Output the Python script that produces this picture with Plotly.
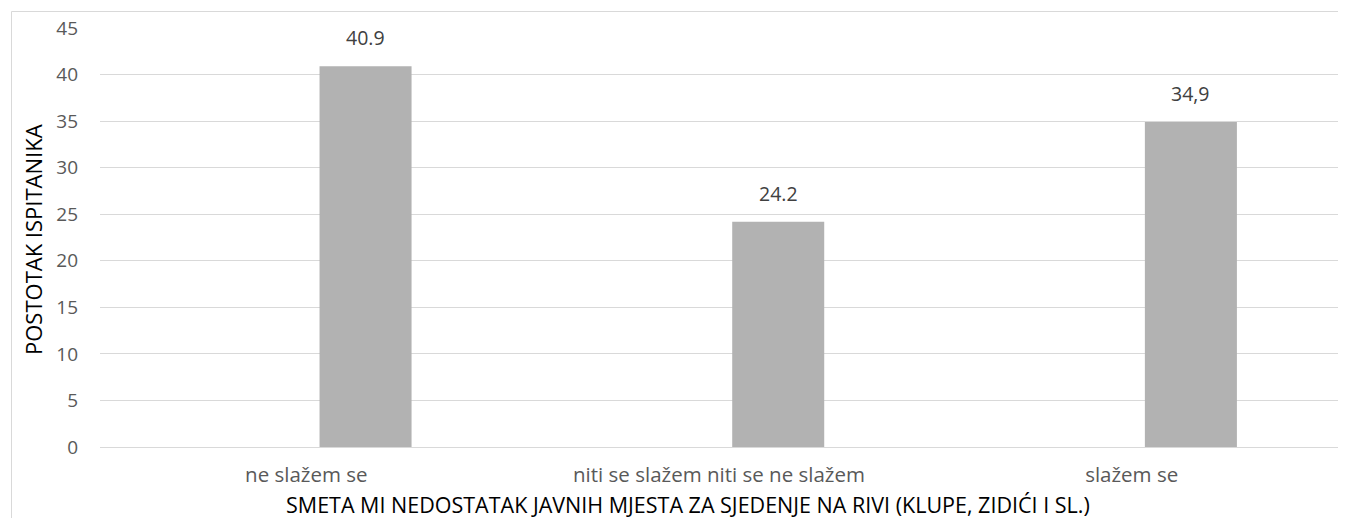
import plotly.graph_objects as go

categories = ["ne slažem se", "niti se slažem niti se ne slažem", "slažem se"]
values = [40.9, 24.2, 34.9]
value_labels = ["40.9", "24.2", "34,9"]
y_ticks = [0, 5, 10, 15, 20, 25, 30, 35, 40, 45]
x_title = "SMETA MI NEDOSTATAK JAVNIH MJESTA ZA SJEDENJE NA RIVI (KLUPE, ZIDIĆI I SL.)"
y_title = "POSTOTAK ISPITANIKA"

FONT = "Open Sans"
BAR_OFFSET = 0.032
BAR_WIDTH = 0.223

# page body has an 8px margin; plot area targets x 100..1338, y 28..447 (page px)
PL, PR, PT, PB = 100, 1338, 28, 447
PW, PH = PR - PL, PB - PT

fig = go.Figure()
fig.add_trace(go.Bar(
    x=categories, y=values,
    offset=BAR_OFFSET, width=BAR_WIDTH,
    marker=dict(color="#b2b2b2", line=dict(width=0)),
    hoverinfo="x+y",
))

for i, (v, t) in enumerate(zip(values, value_labels)):
    fig.add_annotation(
        x=i + BAR_OFFSET + BAR_WIDTH / 2, y=v, text=t,
        showarrow=False, yanchor="bottom", yshift=13,
        font=dict(family=FONT, size=19.5, color="#404040"),
    )

fig.update_layout(
    width=1338, height=510,
    margin=dict(l=PL - 8, r=1346 - PR, t=PT - 8, b=518 - PB),
    paper_bgcolor="white", plot_bgcolor="white",
    showlegend=False,
    font=dict(family=FONT),
)
fig.update_xaxes(
    type="category", range=[-0.5, 2.5],
    showgrid=False, zeroline=False, showline=False,
    tickfont=dict(family=FONT, size=20.5, color="#595959"),
    ticks="", ticklabelstandoff=13,
)
fig.update_yaxes(
    range=[0, 45], tickvals=y_ticks,
    showgrid=True, gridcolor="#d9d9d9", gridwidth=1,
    zeroline=True, zerolinecolor="#d9d9d9", zerolinewidth=1,
    showline=False, ticks="",
    tickfont=dict(family=FONT, size=19, color="#595959"),
    ticklabelstandoff=21,
)

fig.add_annotation(
    xref="paper", yref="paper", x=(688 - PL) / PW, y=-(504 - PB) / PH,
    text=x_title, showarrow=False, xanchor="center", yanchor="middle",
    font=dict(family=FONT, size=21.5, color="#000000"),
)
fig.add_annotation(
    xref="paper", yref="paper", x=-(PL - 33) / PW, y=(PB - 240) / PH,
    text=y_title, textangle=-90, showarrow=False, xanchor="center", yanchor="middle",
    font=dict(family=FONT, size=22, color="#000000"),
)

fig.add_shape(
    type="rect", xref="paper", yref="paper",
    x0=-(PL - 11.5) / PW, x1=(1338.5 - PL) / PW,
    y0=-(540 - PB) / PH, y1=(PB - 11.5) / PH,
    line=dict(color="#d9d9d9", width=1), fillcolor="rgba(0,0,0,0)",
    layer="below",
)

fig.write_html("out.html")
